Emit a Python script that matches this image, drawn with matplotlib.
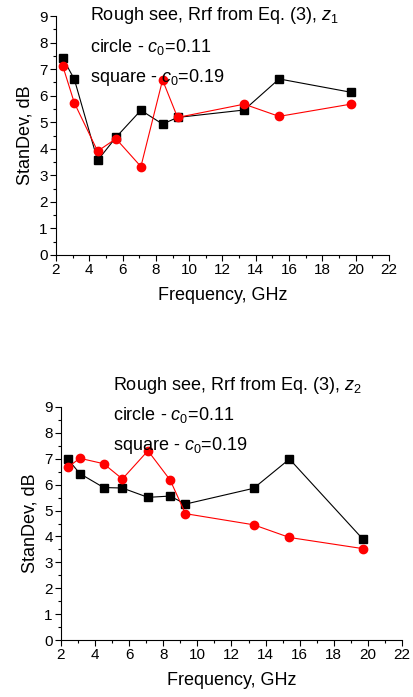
import matplotlib
matplotlib.use("Agg")
import matplotlib.pyplot as plt
from matplotlib.ticker import MultipleLocator

plt.rcParams.update({
    "font.family": ["Liberation Sans", "DejaVu Sans"],
    "mathtext.fontset": "custom",
    "mathtext.rm": "Liberation Sans",
    "mathtext.it": "Liberation Sans:italic",
    "xtick.direction": "out",
    "ytick.direction": "out",
})

# Frequencies shared by both panels (GHz)
freq = [2.4, 3.1, 4.5, 5.6, 7.1, 8.4, 9.3, 13.3, 15.4, 19.7]

# z1: squares c0=0.19, circles c0=0.11
z1_square = [7.42, 6.62, 3.56, 4.43, 5.45, 4.93, 5.18, 5.46, 6.63, 6.13]
z1_circle = [7.13, 5.73, 3.91, 4.38, 3.33, 6.59, 5.18, 5.68, 5.22, 5.68]

# z2
z2_square = [6.99, 6.43, 5.89, 5.87, 5.51, 5.56, 5.25, 5.86, 6.99, 3.90]
z2_circle = [6.67, 7.02, 6.81, 6.22, 7.31, 6.18, 4.88, 4.45, 3.96, 3.53]

W, H = 414, 697
fig = plt.figure(figsize=(W / 100, H / 100), dpi=100)


def px_axes(left, right, top, bottom):
    return fig.add_axes([left / W, 1 - bottom / H, (right - left) / W, (bottom - top) / H])


def style(ax):
    ax.set_xlim(2, 22)
    ax.set_ylim(0, 9)
    ax.xaxis.set_major_locator(MultipleLocator(2))
    ax.xaxis.set_minor_locator(MultipleLocator(1))
    ax.yaxis.set_major_locator(MultipleLocator(1))
    ax.yaxis.set_minor_locator(MultipleLocator(0.5))
    ax.spines["top"].set_visible(False)
    ax.spines["right"].set_visible(False)
    ax.tick_params(which="major", length=4, width=0.8, labelsize=11, pad=2)
    ax.tick_params(which="minor", length=2, width=0.8)
    ax.set_xlabel("Frequency, GHz", fontsize=13, labelpad=7)
    ax.set_ylabel("StanDev, dB", fontsize=13, labelpad=4)
    ax.patch.set_alpha(0)


def draw(ax, sq, ci):
    ax.plot(freq, sq, "-s", color="black", lw=0.8, ms=5.5, zorder=3, clip_on=False)
    ax.plot(freq, ci, "-o", color="red", lw=0.8, ms=6, zorder=4, clip_on=False)


def label(x, y, s):
    # x, y in pixels from the top-left corner of the figure
    fig.text(x / W, 1 - y / H, s, fontsize=13, va="center", ha="left")


ax1 = px_axes(56, 389, 16, 255)
style(ax1)
draw(ax1, z1_square, z1_circle)

ax2 = px_axes(61, 402, 407, 640)
style(ax2)
draw(ax2, z2_square, z2_circle)

label(90, 16, r"Rough see, Rrf from Eq. (3), $z_{\mathrm{1}}$")
label(90, 47, r"circle - $c_{\mathit{0}}$=0.11")
label(90, 77, r"square - $c_{\mathit{0}}$=0.19")
label(113, 386, r"Rough see, Rrf from Eq. (3), $z_{\mathrm{2}}$")
label(113, 415, r"circle - $c_{\mathit{0}}$=0.11")
label(113, 445, r"square - $c_{\mathit{0}}$=0.19")

fig.savefig("out.png", dpi=100)
